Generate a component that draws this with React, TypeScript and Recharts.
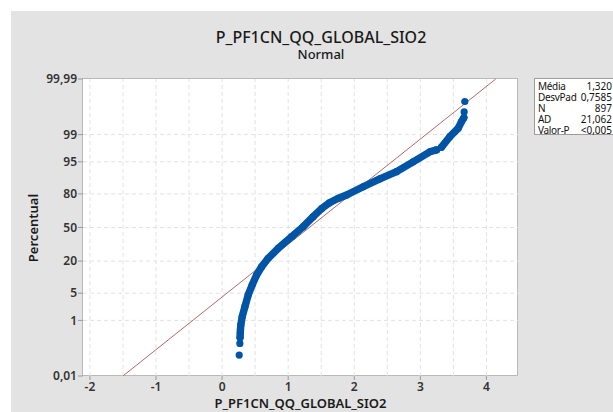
import React from 'react';
import { ComposedChart, Scatter, Line, XAxis, YAxis, ReferenceLine } from 'recharts';

// Sample points (value, percentile)
const sampleValues = [
  0.259, 0.269, 0.272, 0.275, 0.278, 0.283, 0.304, 0.345, 0.395, 0.455,
  0.522, 0.598, 0.697, 0.849, 1.051, 1.227, 1.378, 1.51, 1.625, 1.752,
  1.884, 2.135, 2.387, 2.64, 2.891, 3.144, 3.245, 3.321, 3.446, 3.572,
  3.623, 3.658, 3.663, 3.673,
];
const samplePercent = [
  0.07, 0.184, 0.294, 0.412, 0.532, 0.73, 1.27, 2.37, 4.55, 7.49,
  11.7, 16.3, 22.0, 30.1, 40.9, 50.8, 60.7, 68.4, 73.2, 76.6,
  79.2, 84.6, 88.8, 91.9, 95.0, 97.1, 97.4, 97.8, 98.85, 99.35,
  99.6, 99.7, 99.81, 99.92,
];
// index ranges of the sample where the points form a continuous band
const bandRanges = [[2, 26], [27, 31]];

const yTickPercent = [0.01, 1, 5, 20, 50, 80, 95, 99, 99.99];
const yTickLabels = ['0,01', '1', '5', '20', '50', '80', '95', '99', '99,99'];
const xTicks = [-2, -1, 0, 1, 2, 3, 4];
const xGrid = [-2, -1.5, -1, -0.5, 0, 0.5, 1, 1.5, 2, 2.5, 3, 3.5, 4];

const chartTitle = 'P_PF1CN_QQ_GLOBAL_SIO2';
const chartSubtitle = 'Normal';
const xLabel = 'P_PF1CN_QQ_GLOBAL_SIO2';
const yLabel = 'Percentual';

const statLabels = ['Média', 'DesvPad', 'N', 'AD', 'Valor-P'];
const statValues = ['1,320', '0,7585', '897', '21,062', '<0,005'];
const mean = 1.32;
const sd = 0.7585;

function probit(p: number): number {
  const a = [-3.969683028665376e1, 2.209460984245205e2, -2.759285104469687e2, 1.38357751867269e2, -3.066479806614716e1, 2.506628277459239];
  const b = [-5.447609879822406e1, 1.615858368580409e2, -1.556989798598866e2, 6.680131188771972e1, -1.328068155288572e1];
  const c = [-7.784894002430293e-3, -3.223964580411365e-1, -2.400758277161838, -2.549732539343734, 4.374664141464968, 2.938163982698783];
  const d = [7.784695709041462e-3, 3.224671290700398e-1, 2.445134137142996, 3.754408661907416];
  const pl = 0.02425;
  if (p < pl) {
    const q = Math.sqrt(-2 * Math.log(p));
    return (((((c[0] * q + c[1]) * q + c[2]) * q + c[3]) * q + c[4]) * q + c[5]) / ((((d[0] * q + d[1]) * q + d[2]) * q + d[3]) * q + 1);
  }
  if (p <= 1 - pl) {
    const q = p - 0.5;
    const r = q * q;
    return ((((((a[0] * r + a[1]) * r + a[2]) * r + a[3]) * r + a[4]) * r + a[5]) * q) / (((((b[0] * r + b[1]) * r + b[2]) * r + b[3]) * r + b[4]) * r + 1);
  }
  const q = Math.sqrt(-2 * Math.log(1 - p));
  return -(((((c[0] * q + c[1]) * q + c[2]) * q + c[3]) * q + c[4]) * q + c[5]) / ((((d[0] * q + d[1]) * q + d[2]) * q + d[3]) * q + 1);
}

const points = sampleValues.map((v, i) => ({ x: v, z: probit(samplePercent[i] / 100) }));
const bands = bandRanges.map(([s, e]) => points.slice(s, e + 1));
const yTicks = yTickPercent.map((p) => probit(p / 100));
const zMin = yTicks[0];
const zMax = yTicks[yTicks.length - 1];
const xDomain: [number, number] = [-2.105, 4.478];

const BLUE = '#0054a6';
const FONT = '"Noto Sans", "Open Sans", sans-serif';

const Dot = (props: any) => <circle cx={props.cx} cy={props.cy} r={3.6} fill={BLUE} />;

export default function App() {
  return (
    <div style={{ position: 'fixed', left: 8, top: 8, width: 605, height: 404, overflow: 'hidden', fontFamily: FONT }}>
      <div style={{ position: 'absolute', left: 3, top: 3, width: 602, height: 401, background: '#e3e3e3' }} />
      <div style={{ position: 'absolute', left: 74, top: 70, width: 434, height: 296, background: '#ffffff', border: '1px solid #b9b9b9' }} />
      <div style={{ position: 'absolute', left: 3, top: 20.5, width: 620, textAlign: 'center', fontSize: 16, fontWeight: 500, color: '#1a1a1a', lineHeight: '16px', whiteSpace: 'nowrap' }}>
        {chartTitle}
      </div>
      <div style={{ position: 'absolute', left: 3, top: 38.5, width: 620, textAlign: 'center', fontSize: 13, fontWeight: 500, color: '#1a1a1a', lineHeight: '15px' }}>
        {chartSubtitle}
      </div>
      <div style={{ position: 'absolute', left: 25, top: 219.5, transform: 'translate(-50%, -50%) rotate(-90deg)', fontSize: 13, fontWeight: 600, color: '#1a1a1a', whiteSpace: 'nowrap', lineHeight: '15px' }}>
        {yLabel}
      </div>
      <div style={{ position: 'absolute', left: 92.5, top: 387, width: 400, textAlign: 'center', fontSize: 13, fontWeight: 600, color: '#1a1a1a', lineHeight: '16px', whiteSpace: 'nowrap' }}>
        {xLabel}
      </div>
      <div style={{ position: 'absolute', left: 3, top: 3 }}>
        <ComposedChart width={602} height={401} margin={{ top: 68, right: 95, bottom: 0, left: 0 }}>
          <XAxis
            dataKey="x"
            type="number"
            domain={xDomain}
            allowDataOverflow
            ticks={xTicks}
            interval={0}
            axisLine={false}
            tickLine={{ stroke: '#9a9a9a' }}
            tickSize={4}
            tickMargin={2}
            height={36}
            tick={{ fill: '#333', fontSize: 12, fontFamily: FONT, fontWeight: 600 }}
          />
          <YAxis
            dataKey="z"
            type="number"
            domain={[zMin, zMax]}
            allowDataOverflow
            ticks={yTicks}
            interval={0}
            tickFormatter={(_v: number, i: number) => yTickLabels[i]}
            axisLine={false}
            tickLine={{ stroke: '#9a9a9a' }}
            tickSize={5}
            tickMargin={1}
            width={72}
            tick={{ fill: '#333', fontSize: 12, fontFamily: FONT, fontWeight: 600 }}
          />
          {xGrid.map((g) => (
            <ReferenceLine key={'gx' + g} x={g} stroke="#e2e2e2" strokeDasharray="4 3" />
          ))}
          {yTicks.slice(1, -1).map((g, i) => (
            <ReferenceLine key={'gy' + i} y={g} stroke="#e2e2e2" strokeDasharray="4 3" />
          ))}
          <ReferenceLine
            segment={[
              { x: mean + sd * zMin, y: zMin },
              { x: mean + sd * zMax, y: zMax },
            ]}
            stroke="#b06a6a"
            strokeWidth={1}
          />
          {bands.map((b, i) => (
            <Line
              key={'band' + i}
              data={b}
              dataKey="z"
              type="linear"
              stroke={BLUE}
              strokeWidth={7.4}
              strokeLinejoin="round"
              strokeLinecap="round"
              dot={false}
              activeDot={false}
              isAnimationActive={false}
            />
          ))}
          <Scatter data={points} dataKey="z" fill={BLUE} shape={Dot} isAnimationActive={false} />
        </ComposedChart>
      </div>
      <div style={{ position: 'absolute', left: 526, top: 70, width: 90, height: 57, background: '#fff', border: '1px solid #9c9c9c', boxSizing: 'border-box' }}>
        {statLabels.map((l, i) => (
          <div key={l} style={{ position: 'absolute', left: 3, top: 2 + i * 11, width: 74, height: 11, fontSize: 10, lineHeight: '11px', color: '#111' }}>
            <span style={{ letterSpacing: -0.3 }}>{l}</span>
            <span style={{ position: 'absolute', right: 0, top: 0 }}>{statValues[i]}</span>
          </div>
        ))}
      </div>
    </div>
  );
}
